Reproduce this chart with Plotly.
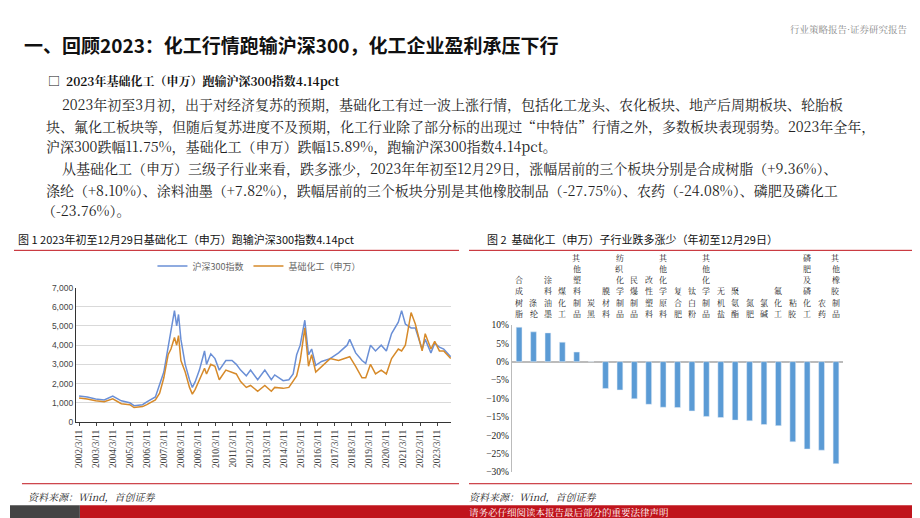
import pandas as pd
import plotly.graph_objects as go

# line chart data
dates = ["2002-03-11", "2002-09-01", "2003-03-01", "2003-09-01", "2004-03-01", "2004-09-01",
         "2005-03-01", "2005-06-01", "2005-12-01", "2006-03-01", "2006-09-01", "2006-12-01",
         "2007-03-01", "2007-06-01", "2007-08-01", "2007-10-15", "2007-12-01", "2008-01-10",
         "2008-03-01", "2008-06-01", "2008-09-01", "2008-11-01", "2009-01-01", "2009-04-01",
         "2009-07-20", "2009-09-01", "2009-12-01", "2010-03-01", "2010-06-01", "2010-10-20",
         "2011-03-01", "2011-06-01", "2011-09-01", "2012-01-01", "2012-04-01", "2012-09-01",
         "2013-02-01", "2013-06-20", "2013-09-01", "2014-03-01", "2014-07-01", "2014-10-01",
         "2014-12-15", "2015-03-01", "2015-06-08", "2015-08-26", "2015-11-01", "2016-01-28",
         "2016-06-01", "2016-12-01", "2017-06-01", "2017-12-01", "2018-01-25", "2018-06-01",
         "2018-10-15", "2019-01-03", "2019-04-15", "2019-08-01", "2019-12-01", "2020-03-20",
         "2020-07-10", "2020-12-01", "2021-02-10", "2021-05-01", "2021-09-01", "2021-12-01",
         "2022-03-01", "2022-04-26", "2022-07-01", "2022-10-31", "2023-01-20", "2023-05-01",
         "2023-08-01", "2023-12-29"]
hs300 = [1350, 1300, 1200, 1150, 1350, 1100, 1000, 850, 900, 1050, 1300, 1900,
         2600, 3900, 4800, 5800, 5000, 5600, 4300, 3000, 2200, 1800, 2100, 2700,
         3700, 3000, 3550, 3300, 2700, 3200, 3200, 3000, 2700, 2400, 2700, 2200,
         2700, 2200, 2450, 2150, 2200, 2500, 3500, 4000, 5300, 3500, 3800, 2950,
         3150, 3300, 3600, 4000, 4300, 3600, 3200, 3050, 4000, 3700, 4000, 3700,
         4600, 5200, 5800, 5100, 4900, 4900, 4200, 3800, 4300, 3600, 4100, 3900,
         3800, 3400]
chem = [1250, 1200, 1100, 1050, 1200, 950, 900, 750, 800, 900, 1150, 1500,
        2300, 3500, 3800, 4400, 4000, 4500, 3200, 2600, 1800, 1450, 1700, 2200,
        2800, 2500, 3000, 2900, 2200, 2700, 2600, 2500, 2100, 1800, 1900, 1600,
        1900, 1600, 1800, 1750, 1800, 2100, 2400, 3200, 4900, 2900, 3500, 2600,
        2900, 3300, 3200, 3350, 3400, 2900, 2300, 2300, 3000, 2500, 2700, 2500,
        3300, 3800, 3700, 4000, 5700, 5100, 4300, 3700, 4600, 3800, 4200, 3700,
        3700, 3300]
tick_dates = [f"{y}-03-11" for y in range(2002, 2024)]
tick_labels = [f"{y}/3/11" for y in range(2002, 2024)]

# bar chart data
sectors = ["合成树脂", "涤纶", "涂料油墨", "煤化工", "其他塑料制品", "炭黑", "膜材料",
           "纺织化学制品", "民爆制品", "改性塑料", "其他化学原料", "复合肥", "钛白粉",
           "其他化学制品", "无机盐", "聚氨酯", "氮肥", "氯碱", "氟化工", "粘胶",
           "磷肥及磷化工", "农药", "其他橡胶制品"]
change = [9.36, 8.10, 7.82, 5.3, 2.6, 0.0, -7.3, -7.7, -10.1, -11.6, -12.4, -12.5,
          -13.4, -14.9, -15.2, -15.9, -16.1, -17.1, -17.4, -21.8, -23.76, -24.08, -27.75]

W, H = 920, 518
def px(x): return x / W
def py(y): return 1 - y / H

BLUE = "#6A8FD6"
ORANGE = "#D68A2A"
RED = "#C0141C"
SERIF = "Noto Serif CJK SC, Noto Sans CJK SC, serif"
SANS = "Noto Sans CJK SC"

fig = go.Figure()
fig.add_trace(go.Scatter(x=pd.to_datetime(dates), y=hs300, mode="lines", name="沪深300指数",
                         line=dict(color=BLUE, width=1.5), xaxis="x", yaxis="y"))
fig.add_trace(go.Scatter(x=pd.to_datetime(dates), y=chem, mode="lines", name="基础化工（申万）",
                         line=dict(color=ORANGE, width=1.5), xaxis="x", yaxis="y"))
fig.add_trace(go.Bar(x=sectors, y=change, marker_color="#5B9BD5", width=0.4,
                     showlegend=False, xaxis="x2", yaxis="y2"))

ann = []
def text(x, y, s, size, color="#222", anchor="left", yanchor="middle", font=SANS, **kw):
    ann.append(dict(x=px(x), y=py(y), xref="paper", yref="paper", text=s, showarrow=False,
                    xanchor=anchor, yanchor=yanchor, font=dict(size=size, color=color, family=font), **kw))

text(12, 32, "<b>一、回顾2023：化工行情跑输沪深300，化工企业盈利承压下行</b>", 19, color="#111")
text(902, 16, "行业策略报告·证券研究报告", 9.5, color="#888", anchor="right", font=SERIF)
text(36, 69, "<b>□  2023年基础化工（申万）跑输沪深300指数4.14pct</b>", 12, color="#111", font=SERIF)
body = [
    (50, 93, "2023年初至3月初，出于对经济复苏的预期，基础化工有过一波上涨行情，包括化工龙头、农化板块、地产后周期板块、轮胎板"),
    (34, 115, "块、氟化工板块等，但随后复苏进度不及预期，化工行业除了部分标的出现过“中特估”行情之外，多数板块表现弱势。2023年全年，"),
    (34, 136, "沪深300跌幅11.75%，基础化工（申万）跌幅15.89%，跑输沪深300指数4.14pct。"),
    (50, 158, "从基础化工（申万）三级子行业来看，跌多涨少，2023年年初至12月29日，涨幅居前的三个板块分别是合成树脂（+9.36%）、"),
    (34, 180, "涤纶（+8.10%）、涂料油墨（+7.82%），跌幅居前的三个板块分别是其他橡胶制品（-27.75%）、农药（-24.08%）、磷肥及磷化工"),
    (30, 201, "（-23.76%）。"),
]
for x, y, s in body:
    text(x, y, s, 14, color="#222", font=SERIF)

text(6, 230, "图 1 2023年初至12月29日基础化工（申万）跑输沪深300指数4.14pct", 11, color="#111")
text(476, 230, "图 2  基础化工（申万）子行业跌多涨少（年初至12月29日）", 11, color="#111")
text(16, 493, "<i>资料来源：Wind，首创证券</i>", 10, color="#222", font=SERIF)
text(458, 493, "<i>资料来源：Wind，首创证券</i>", 10, color="#222", font=SERIF)
text(560, 509, "请务必仔细阅读本报告最后部分的重要法律声明", 9.5, color="white", anchor="center", font=SERIF)

# vertical category labels, one character per annotation, stacked upward from the baseline
for s in sectors:
    for i, ch in enumerate(reversed(s)):
        ann.append(dict(x=s, y=py(313 - i * 11.5), xref="x2", yref="paper", text=ch, showarrow=False,
                        xanchor="center", yanchor="bottom", font=dict(size=8, color="#222", family=SERIF),
                        borderpad=0))

shapes = [
    dict(type="line", xref="paper", yref="paper", x0=px(4), x1=px(450), y0=py(242), y1=py(242), line=dict(color=RED, width=1)),
    dict(type="line", xref="paper", yref="paper", x0=px(460), x1=px(916), y0=py(242), y1=py(242), line=dict(color=RED, width=1)),
    dict(type="line", xref="paper", yref="paper", x0=px(12), x1=px(450), y0=py(480), y1=py(480), line=dict(color=RED, width=1)),
    dict(type="line", xref="paper", yref="paper", x0=px(460), x1=px(916), y0=py(480), y1=py(480), line=dict(color=RED, width=1)),
    dict(type="rect", xref="paper", yref="paper", x0=px(70), x1=1, y0=0, y1=py(502), fillcolor=RED, line_width=0, layer="below"),
    dict(type="rect", xref="paper", yref="paper", x0=0, x1=px(70), y0=0, y1=py(502), fillcolor="#444", line_width=0, layer="below"),
]

fig.update_layout(
    width=W, height=H, margin=dict(l=0, r=0, t=0, b=0),
    plot_bgcolor="white", paper_bgcolor="white",
    font=dict(family=SERIF, size=9, color="#444"),
    annotations=ann, shapes=shapes,
    legend=dict(orientation="h", x=px(250), xanchor="center", y=py(258), yanchor="middle",
                font=dict(size=9, color="#666", family=SANS), bgcolor="rgba(0,0,0,0)"),
    xaxis=dict(domain=[px(66), px(442)], anchor="y", type="date",
               range=["2002-01-01", "2024-01-05"], tickvals=tick_dates, ticktext=tick_labels,
               tickangle=-90, showgrid=False, showline=True, linecolor="#333", ticks="outside",
               ticklen=3, tickfont=dict(size=9.5, color="#444", family="Liberation Serif")),
    yaxis=dict(domain=[py(417), py(280)], anchor="x", range=[0, 7000], dtick=1000,
               tickformat=",", gridcolor="#d9d9d9", showline=True, linecolor="#333",
               tickfont=dict(size=8.5, color="#444", family="Liberation Sans"), zeroline=False),
    xaxis2=dict(domain=[px(503), px(835)], anchor="y2", showticklabels=False, showgrid=False,
                showline=False),
    yaxis2=dict(domain=[py(468), py(318)], anchor="x2", range=[-30, 10], dtick=5,
                ticksuffix="%", showgrid=False, zeroline=True, zerolinecolor="#bbb",
                showline=True, linecolor="#bbb",
                tickfont=dict(size=9.5, color="#222", family="Liberation Serif")),
)

fig.write_html("out.html")
